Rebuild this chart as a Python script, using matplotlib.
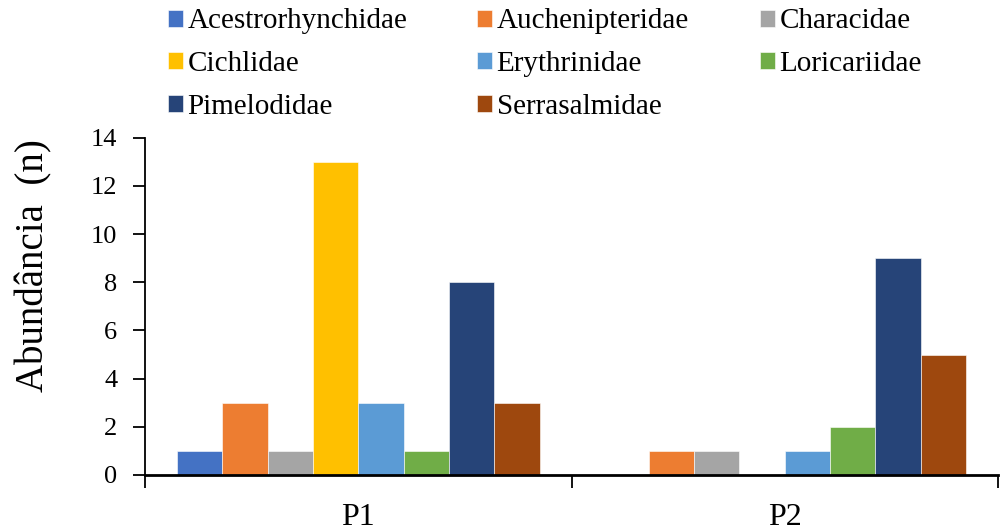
import numpy as np
import matplotlib.pyplot as plt

plt.rcParams['font.family'] = ['Liberation Serif', 'DejaVu Serif']

# Data
sites = ['P1', 'P2']
families = ['Acestrorhynchidae', 'Auchenipteridae', 'Characidae', 'Cichlidae',
            'Erythrinidae', 'Loricariidae', 'Pimelodidae', 'Serrasalmidae']
abund = {
    'Acestrorhynchidae': [1, 0],
    'Auchenipteridae': [3, 1],
    'Characidae': [1, 1],
    'Cichlidae': [13, 0],
    'Erythrinidae': [3, 1],
    'Loricariidae': [1, 2],
    'Pimelodidae': [8, 9],
    'Serrasalmidae': [3, 5],
}
colors = ['#4472C4', '#ED7D31', '#A5A5A5', '#FFC000',
          '#5B9BD5', '#70AD47', '#264478', '#9E480E']

fig = plt.figure(figsize=(10, 5.31), dpi=100)
ax = fig.add_axes([0.145, 0.1055, 0.853, 0.635])

x_pos = np.arange(len(sites))
group_w = 0.85
bar_w = group_w / len(families)

bars = []
for i, fam in enumerate(families):
    offs = -group_w / 2 + bar_w * (i + 0.5)
    b = ax.bar(x_pos + offs, abund[fam], bar_w, color=colors[i], label=fam,
               edgecolor='white', linewidth=0.4)
    bars.append(b)

ax.set_xlim(-0.5, len(sites) - 0.5)
ax.set_ylim(0, 14)
ax.set_yticks(range(0, 15, 2))
ax.tick_params(axis='y', labelsize=19, direction='out', length=9, width=1.3, pad=11)

# category labels between boundary ticks, like Excel
ax.set_xticks([-0.5, 0.5, 1.5])
ax.set_xticklabels([])
ax.set_xticks(x_pos, minor=True)
ax.set_xticklabels(sites, minor=True, fontsize=23)
ax.tick_params(axis='x', which='major', direction='out', length=9, width=1.3)
ax.tick_params(axis='x', which='minor', length=0, pad=20)

ax.spines['top'].set_visible(False)
ax.spines['right'].set_visible(False)
ax.spines['left'].set_linewidth(1.3)
ax.spines['bottom'].set_linewidth(2)

ax.set_ylabel('Abundância  (n)', fontsize=28)
ax.yaxis.set_label_coords(-0.108, 0.62)

# legend laid out row by row in three columns
col_x = [0.168, 0.477, 0.760]
for c in range(3):
    idx = list(range(c, len(families), 3))
    fig.legend([bars[k] for k in idx], [families[k] for k in idx],
               loc='upper left', bbox_to_anchor=(col_x[c], 0.984),
               fontsize=21, frameon=False, borderpad=0, borderaxespad=0,
               handlelength=0.52, handleheight=0.52, handletextpad=0.15,
               labelspacing=0.57)

fig.savefig('out.png', dpi=100)
